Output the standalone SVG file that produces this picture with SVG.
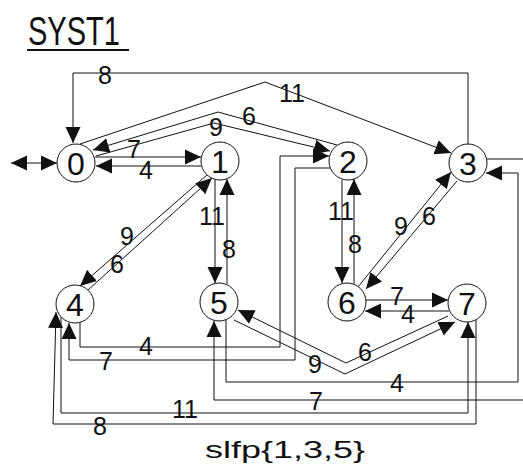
<svg xmlns="http://www.w3.org/2000/svg" width="523" height="468" viewBox="0 0 523 468">
<style>
.e{fill:none;stroke:#111;stroke-width:1}
.n circle{fill:#fff;stroke:#111;stroke-width:1}
.n text{font-family:"Liberation Sans",Arial,sans-serif;font-size:32px;text-anchor:middle;fill:#111}
.l{font-family:"Liberation Sans",Arial,sans-serif;font-size:25px;text-anchor:middle;fill:#111}
</style>
<defs>
<marker id="a" viewBox="0 0 16 16" refX="16" refY="8" markerWidth="16" markerHeight="16" orient="auto-start-reverse" markerUnits="userSpaceOnUse">
<path d="M0,0.5 L16,8 L0,15.5 z" fill="#111"/>
</marker>
</defs>
<rect width="523" height="468" fill="#fff"/>
<g id="title">
<text x="28" y="45" font-family="'Liberation Sans',Arial,sans-serif" font-size="41" textLength="92" lengthAdjust="spacingAndGlyphs" fill="#111">SYST1</text>
<line x1="27" y1="50" x2="129" y2="50" stroke="#111" stroke-width="2"/>
</g>
<g id="connectors">
<path class="e" d="M11 163 H57" marker-start="url(#a)" marker-end="url(#a)"/>
<path class="e" d="M95 157 H201" marker-end="url(#a)"/>
<path class="e" d="M201 166 H96" marker-end="url(#a)"/>
<path class="e" d="M468 144 V73 H73 V143" marker-end="url(#a)"/>
<path class="e" d="M80 144 L265 82 L451 153" marker-end="url(#a)"/>
<path class="e" d="M337 145 L218 112 L93 150" marker-end="url(#a)"/>
<path class="e" d="M96 156 L214 123 L330 151" marker-end="url(#a)"/>
<path class="e" d="M207 175 L80 286" marker-end="url(#a)"/>
<path class="e" d="M88 290 L212 178" marker-end="url(#a)"/>
<path class="e" d="M215 180 V283" marker-end="url(#a)"/>
<path class="e" d="M227 284 V179" marker-end="url(#a)"/>
<path class="e" d="M342 180 V283" marker-end="url(#a)"/>
<path class="e" d="M354 284 V179" marker-end="url(#a)"/>
<path class="e" d="M358 287 L451 172" marker-end="url(#a)"/>
<path class="e" d="M457 181 L366 289" marker-end="url(#a)"/>
<path class="e" d="M366 300 H448" marker-end="url(#a)"/>
<path class="e" d="M449 311 H365" marker-end="url(#a)"/>
<path class="e" d="M448 316 L346 363 L238 310" marker-end="url(#a)"/>
<path class="e" d="M234 320 L345 374 L455 322" marker-end="url(#a)"/>
<path class="e" d="M80 322 V347 H280 V156 H329" marker-end="url(#a)"/>
<path class="e" d="M330 168 H295 V360 H69 V323" marker-end="url(#a)"/>
<path class="e" d="M226 320 V382 H518 V173 H486" marker-end="url(#a)"/>
<path class="e" d="M487 159 H530 V400 H214 V321" marker-end="url(#a)"/>
<path class="e" d="M61 317 V413 H468 V322" marker-end="url(#a)"/>
<path class="e" d="M476 320 V424 H53 L56 312" marker-end="url(#a)"/>
<text class="l" x="105" y="84">8</text>
<text class="l" x="292" y="102">11</text>
<text class="l" x="249" y="125">6</text>
<text class="l" x="216" y="136">9</text>
<text class="l" x="134" y="158">7</text>
<text class="l" x="146" y="179">4</text>
<text class="l" x="127" y="245">9</text>
<text class="l" x="117" y="273">6</text>
<text class="l" x="212" y="225">11</text>
<text class="l" x="229" y="258">8</text>
<text class="l" x="341" y="220">11</text>
<text class="l" x="355" y="253">8</text>
<text class="l" x="401" y="235">9</text>
<text class="l" x="429" y="225">6</text>
<text class="l" x="397" y="305">7</text>
<text class="l" x="408" y="323">4</text>
<text class="l" x="146" y="355">4</text>
<text class="l" x="106" y="370">7</text>
<text class="l" x="315" y="373">9</text>
<text class="l" x="365" y="361">6</text>
<text class="l" x="397" y="392">4</text>
<text class="l" x="316" y="410">7</text>
<text class="l" x="185" y="418">11</text>
<text class="l" x="100" y="435">8</text>
</g>
<g id="n0" class="n"><circle cx="76" cy="163" r="19"/><text x="76" y="174.5">0</text></g>
<g id="n1" class="n"><circle cx="220" cy="161" r="19"/><text x="220" y="172.5">1</text></g>
<g id="n2" class="n"><circle cx="348" cy="161" r="19"/><text x="348" y="172.5">2</text></g>
<g id="n3" class="n"><circle cx="468" cy="163" r="19"/><text x="468" y="174.5">3</text></g>
<g id="n4" class="n"><circle cx="75" cy="304" r="19"/><text x="75" y="315.5">4</text></g>
<g id="n5" class="n"><circle cx="219" cy="302" r="19"/><text x="219" y="313.5">5</text></g>
<g id="n6" class="n"><circle cx="347" cy="302" r="19"/><text x="347" y="313.5">6</text></g>
<g id="n7" class="n"><circle cx="467" cy="303" r="19"/><text x="467" y="314.5">7</text></g>
<g id="caption">
<text x="205" y="458" font-family="'Liberation Sans',Arial,sans-serif" font-size="24" textLength="160" lengthAdjust="spacingAndGlyphs" fill="#111">slfp{1,3,5}</text>
</g>
</svg>
